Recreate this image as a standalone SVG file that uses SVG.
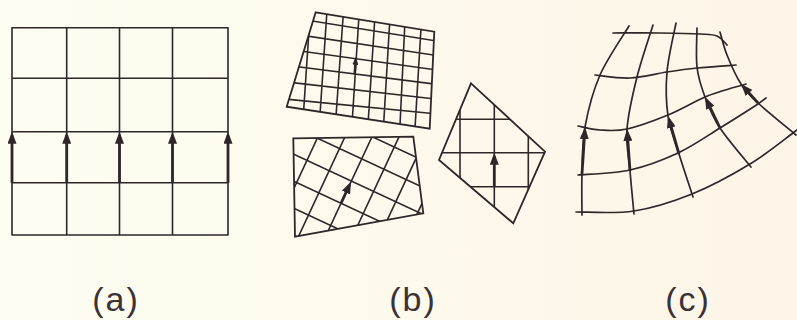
<svg xmlns="http://www.w3.org/2000/svg" width="797" height="320" viewBox="0 0 797 320">
<defs>
<linearGradient id="bg" x1="0" y1="0" x2="1" y2="0">
<stop offset="0" stop-color="#fefdf1"/>
<stop offset="1" stop-color="#fcf5e7"/>
</linearGradient>
<marker id="ah" viewBox="0 0 12 9" refX="8.4" refY="4.5" markerWidth="12" markerHeight="9" markerUnits="userSpaceOnUse" orient="auto" preserveAspectRatio="none">
<path d="M0,0 L12,4.5 L0,9 z" fill="#2e2628"/>
</marker>
<marker id="ahs" viewBox="0 0 8 6" refX="5" refY="3" markerWidth="8" markerHeight="6" markerUnits="userSpaceOnUse" orient="auto" preserveAspectRatio="none">
<path d="M0,0 L8,3 L0,6 z" fill="#2e2628"/>
</marker>
<clipPath id="clipTop" clipPathUnits="userSpaceOnUse">
<polygon points="315.7,12.3 434.3,31.7 429.7,128.7 286.7,106.7"/>
</clipPath>
<clipPath id="clipLow" clipPathUnits="userSpaceOnUse">
<polygon points="293.3,138.3 413.3,136.7 423.3,213.3 295,236.7"/>
</clipPath>
<clipPath id="clipDia" clipPathUnits="userSpaceOnUse">
<polygon points="471,83.3 545,151.7 513.3,223.3 439,160"/>
</clipPath>
</defs>
<style>
.grid{fill:none;stroke:#2e2628;stroke-width:1.6;stroke-linecap:round;stroke-linejoin:round}
.edge{fill:none;stroke:#2e2628;stroke-width:1.8;stroke-linejoin:miter}
.arr{fill:none;stroke:#2e2628;stroke-width:2.8;marker-end:url(#ah)}
.arrs{fill:none;stroke:#2e2628;stroke-width:2.4;marker-end:url(#ahs)}
.curve{fill:none;stroke:#2e2628;stroke-width:1.7;stroke-linecap:round}
.lbl{font-family:"Liberation Sans",Arial,sans-serif;font-size:34px;fill:#3a3234;text-anchor:middle;letter-spacing:2px}
</style>
<rect x="0" y="0" width="797" height="320" fill="url(#bg)"/>

<g id="panel-a">
<path class="grid" d="M12,27.7 H228 M12,78.3 H228 M12,131.7 H228 M12,182.7 H228 M12,235 H228 M12,27.7 V235 M66.7,27.7 V235 M119.5,27.7 V235 M172.5,27.7 V235 M228,27.7 V235"/>
</g>

<g id="panel-b-top">
<g clip-path="url(#clipTop)">
<path class="grid" d="M311,0 L301.7,140 M327.7,0 L318.3,140 M344.3,0 L334.3,140 M360,0 L351,140 M376,0 L367,140 M391,0 L382.7,140 M406,0 L399.3,140 M422.7,0 L414.3,140 M270,14.2 L450,43.2 M270,30.5 L450,57.5 M270,46.8 L450,71.8 M270,63.2 L450,86 M270,80 L450,100.8 M270,97.5 L450,115.3"/>
</g>
<polygon class="edge" points="315.7,12.3 434.3,31.7 429.7,128.7 286.7,106.7"/>
</g>

<g id="panel-b-lower">
<g clip-path="url(#clipLow)">
<g transform="translate(341,203.3) rotate(25)">
<path class="grid" d="M-98,-130 V130 M-73.5,-130 V130 M-49,-130 V130 M-24.5,-130 V130 M0,-130 V130 M24.5,-130 V130 M49,-130 V130 M73.5,-130 V130 M98,-130 V130 M-130,-122.5 H130 M-130,-98 H130 M-130,-73.5 H130 M-130,-49 H130 M-130,-24.5 H130 M-130,0 H130 M-130,24.5 H130 M-130,49 H130 M-130,73.5 H130"/>
</g>
</g>
<polygon class="edge" points="293.3,138.3 413.3,136.7 423.3,213.3 295,236.7"/>
</g>

<g id="panel-b-diamond">
<g clip-path="url(#clipDia)">
<path class="grid" d="M460,80 V230 M494.3,80 V230 M528.3,80 V230 M435,119.3 H550 M435,152.7 H550 M435,186.7 H550"/>
</g>
<polygon class="edge" points="471,83.3 545,151.7 513.3,223.3 439,160"/>
</g>

<g id="panel-c">
<path class="curve" d="M629,26 C624.2,34.2 607.3,58.2 600,75 C592.7,91.8 588,110.5 585,127 C582,143.5 582.5,159.3 582,174 C581.5,188.7 582,208.2 582,215"/>
<path class="curve" d="M653,25 C650.3,33.7 641.3,59.7 637,77 C632.7,94.3 628.2,113.3 627,129 C625.8,144.7 628.8,156.8 630,171 C631.2,185.2 633.3,206.8 634,214"/>
<path class="curve" d="M676,23 C674.5,31.2 668.3,56.5 667,72 C665.7,87.5 666,102.3 668,116 C670,129.7 674.8,140.5 679,154 C683.2,167.5 690.7,189.8 693,197"/>
<path class="curve" d="M697,28 C697,34.5 695.7,55.5 697,67 C698.3,78.5 701.2,86.8 705,97 C708.8,107.2 712.3,116.3 720,128 C727.7,139.7 745.8,160.5 751,167"/>
<path class="curve" d="M720,32 C721.2,35.8 723.5,46.3 727,55 C730.5,63.7 735.8,76 741,84 C746.2,92 748.8,94.5 758,103 C767.2,111.5 789.7,129.7 796,135"/>
<path class="curve" d="M613,33 C620.8,33 645.5,32.8 660,33 C674.5,33.2 690.5,33.5 700,34 C709.5,34.5 712.5,34.2 717,36 C721.5,37.8 725.3,43.5 727,45"/>
<path class="curve" d="M595,75 C600.8,75.5 618,78.5 630,78 C642,77.5 655.8,73.7 667,72 C678.2,70.3 685.5,69.2 697,68 C708.5,66.8 729.5,65.5 736,65"/>
<path class="curve" d="M578,126 C581.7,126.7 591.8,129.5 600,130 C608.2,130.5 615.7,131.5 627,129 C638.3,126.5 655,120.3 668,115 C681,109.7 692.8,102.3 705,97 C717.2,91.7 739.2,86.2 746,84"/>
<path class="curve" d="M578,175 C586.7,174.2 613.3,173.7 630,170 C646.7,166.3 663,160 678,153 C693,146 706.7,136.2 720,128 C733.3,119.8 750.3,109 758,104 L766,98"/>
<path class="curve" d="M576,212 C585.7,211.8 614.7,214 634,211 C653.3,208 672.7,201.8 692,194 C711.3,186.2 733.2,174.2 750,164 C766.8,153.8 785.2,138.7 793,133 L797,130"/>
</g>

<g id="arrows">
<path class="arr" d="M12,182.7 V135.3"/>
<path class="arr" d="M66.7,182.7 V135.3"/>
<path class="arr" d="M119.5,182.7 V135.3"/>
<path class="arr" d="M172.5,182.7 V135.3"/>
<path class="arr" d="M228,182.7 V135.3"/>
<path class="arrs" d="M354.7,73 L355.7,59.7"/>
<path class="arr" d="M341,203.3 L349.5,185"/>
<path class="arr" d="M494.3,186.7 V156.3"/>
<path class="arr" d="M582,174 L584.8,130.6"/>
<path class="arr" d="M630,171 L627.3,132.6"/>
<path class="arr" d="M679,154 L669,119.5"/>
<path class="arr" d="M720,128 L706.6,100.2"/>
<path class="arr" d="M758,103 L743.4,86.7"/>
</g>

<g id="labels">
<text class="lbl" x="116" y="311">(a)</text>
<text class="lbl" x="413" y="311">(b)</text>
<text class="lbl" x="688" y="311">(c)</text>
</g>
</svg>
